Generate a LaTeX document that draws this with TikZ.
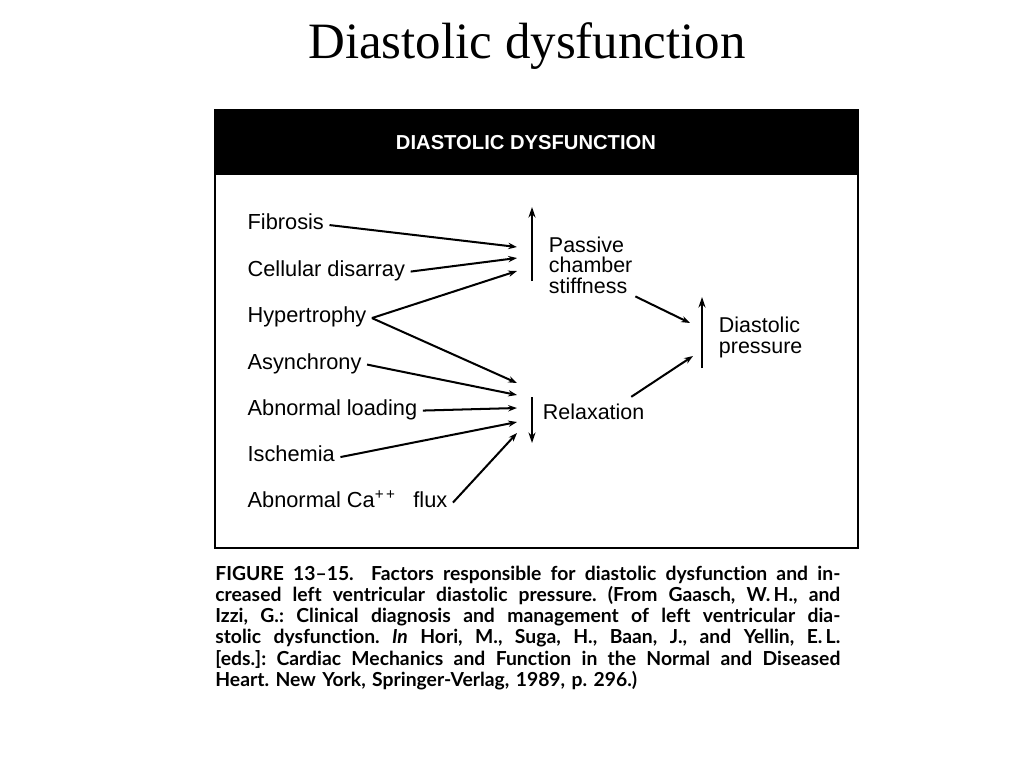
\documentclass[tikz,border=0pt]{standalone}
\usepackage{fontspec}
\setmainfont{Liberation Serif}
\newfontfamily\figsans{Liberation Sans}
\newfontfamily\capsans[Ligatures=NoCommon]{Lato}
\usetikzlibrary{arrows.meta,calc}

\newcommand{\capline}[1]{\makebox[12.5cm][s]{\spaceskip=0.22em plus 1fil\xspaceskip=\spaceskip #1}}

\begin{document}
\frenchspacing
\begin{tikzpicture}[
  x=0.02cm, y=-0.02cm,
  factor/.style={anchor=base west, inner xsep=3pt, inner ysep=1.5pt, text height=1.5ex,
                 text depth=0.4ex, font=\figsans\fontsize{12.4}{14}\selectfont},
  effect/.style={anchor=west, align=left, inner sep=1.5pt,
                 font=\figsans\fontsize{12.2}{11.7}\selectfont},
  flow/.style={-{Stealth[length=5pt,width=3.6pt]}, line width=1.15pt},
  trend/.style={-{Stealth[length=6pt,width=4pt]}, line width=1.4pt},
]
  \useasboundingbox (0,0) rectangle (1024,768);

  \node[font=\fontsize{29}{32}\selectfont] (title) at (527,46) {Diastolic dysfunction};

  % frame and header band
  \fill[black] (215,110) rectangle (858,175);
  \draw[line width=1.3pt] (215,110) rectangle (858,548);
  \node[text=white, font=\figsans\bfseries\fontsize{11.5}{13}\selectfont] (head) at (526,143)
    {DIASTOLIC DYSFUNCTION};

  % causes
  \node[factor] (fib)  at (242,229.5) {Fibrosis};
  \node[factor] (cell) at (242,276)   {Cellular disarray};
  \node[factor] (hyp)  at (242,322.5) {Hypertrophy};
  \node[factor] (asyn) at (242,369)   {Asynchrony};
  \node[factor] (load) at (242,415)   {Abnormal loading};
  \node[factor] (isch) at (242,461.5) {Ischemia};
  \node[factor] (caf)  at (242,507)   {Abnormal Ca\textsuperscript{+\,+}\hspace{0.8em}flux};

  % mechanisms
  \node[effect] (stiff) at (546,265)   {Passive\\chamber\\stiffness};
  \node[effect] (relax) at (540,411.7) {Relaxation};
  \node[effect] (press) at (716,337.5) {Diastolic\\pressure};

  \coordinate (stiffLo) at (532,281);
  \coordinate (stiffHi) at (532,207);
  \coordinate (relaxHi) at (532,397);
  \coordinate (relaxLo) at (532,443);
  \coordinate (pressLo) at (702,368);
  \coordinate (pressHi) at (702,297);
  \draw[trend] (stiffLo) -- (stiffHi);
  \draw[trend] (relaxHi) -- (relaxLo);
  \draw[trend] (pressLo) -- (pressHi);

  \coordinate (sIn1) at (517,247);
  \coordinate (sIn2) at (517,258);
  \coordinate (sIn3) at (517,271);
  \coordinate (rIn1) at (517,383);
  \coordinate (rIn2) at (517,395);
  \coordinate (rIn3) at (517,408);
  \coordinate (rIn4) at (517,422);
  \coordinate (rIn5) at (517,433);
  \coordinate (pIn1) at (690,323);
  \coordinate (pIn2) at (693,356);

  \draw[flow] (fib.east)  -- (sIn1);
  \draw[flow] (cell.east) -- (sIn2);
  \draw[flow] (hyp.east)  -- (sIn3);
  \draw[flow] (hyp.east)  -- (rIn1);
  \draw[flow] (asyn.east) -- (rIn2);
  \draw[flow] (load.east) -- (rIn3);
  \draw[flow] (isch.east) -- (rIn4);
  \draw[flow] (caf.east)  -- (rIn5);
  \draw[flow] (stiff.south east) -- (pIn1);
  \draw[flow] ($(relax.north east)+(-16,-4)$) -- (pIn2);

  % caption
  \node[anchor=north west, inner sep=0, text width=12.5cm, align=left,
        font=\capsans\bfseries\fontsize{11}{12}\selectfont] (cap) at (215,566) {%
    \capline{FIGURE 13\textendash15.\hspace{0.9em}Factors responsible for diastolic dysfunction and in-}\\
    \capline{creased left ventricular diastolic pressure. (From Gaasch, W.\,H., and}\\
    \capline{Izzi, G.: Clinical diagnosis and management of left ventricular dia-}\\
    \capline{stolic dysfunction. \textit{In} Hori, M., Suga, H., Baan, J., and Yellin, E.\,L.}\\
    \capline{[eds.]: Cardiac Mechanics and Function in the Normal and Diseased}\\
    Heart. New York, Springer-Verlag, 1989, p. 296.)};
\end{tikzpicture}
\end{document}
